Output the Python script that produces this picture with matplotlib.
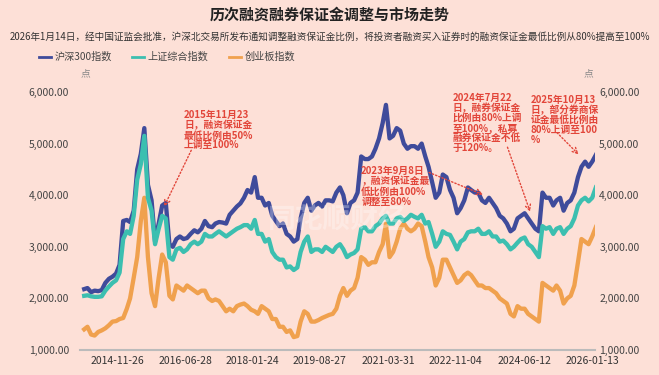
import numpy as np
import pandas as pd
import matplotlib
matplotlib.use("Agg")
import matplotlib.pyplot as plt
import matplotlib.dates as mdates
from matplotlib.lines import Line2D

plt.rcParams['font.family'] = ['Noto Sans CJK SC', 'DejaVu Sans']

# 月度数据
dates = pd.date_range("2014-01-15", periods=145, freq="MS") + pd.Timedelta(days=14)

hs300 = [
    2180, 2200, 2120, 2150, 2140, 2160, 2300, 2380, 2420, 2480, 2650, 3500,   # 2014
    3520, 3480, 3700, 4500, 4800, 5300, 4200, 3900, 3100, 3450, 3800, 3850,   # 2015
    3050, 3000, 3150, 3200, 3150, 3170, 3250, 3320, 3280, 3350, 3500, 3400,   # 2016
    3380, 3450, 3480, 3470, 3450, 3620, 3700, 3780, 3840, 3950, 4100, 4050,   # 2017
    4350, 3950, 3950, 3800, 3850, 3600, 3500, 3400, 3450, 3250, 3200, 3100,   # 2018
    3150, 3550, 3850, 3950, 3700, 3800, 3850, 3780, 3900, 3900, 3880, 4050,   # 2019
    4150, 4000, 3650, 3850, 3900, 4050, 4750, 4700, 4700, 4750, 4900, 5100,   # 2020
    5400, 5750, 5100, 5150, 5300, 5250, 5000, 4900, 4950, 4950, 4900, 5000,   # 2021
    4750, 4550, 4250, 3950, 4050, 4400, 4350, 4100, 3950, 3650, 3750, 3900,   # 2022
    4150, 4100, 4050, 4050, 3900, 3850, 3950, 3850, 3750, 3600, 3550, 3450,   # 2023
    3300, 3350, 3550, 3600, 3650, 3550, 3450, 3350, 3300, 4050, 3950, 3950,   # 2024
    3800, 3900, 3950, 3700, 3850, 3900, 4050, 4350, 4550, 4650, 4550, 4650,   # 2025
    4780,                                                                     # 2026
]
sse = [
    2050, 2060, 2040, 2030, 2030, 2040, 2150, 2230, 2300, 2350, 2500, 3150,
    3300, 3250, 3600, 4300, 4600, 5150, 3950, 3700, 3050, 3350, 3600, 3550,
    2800, 2750, 2950, 2980, 2900, 2950, 3050, 3100, 3050, 3100, 3250, 3200,
    3200, 3250, 3300, 3250, 3200, 3250, 3300, 3350, 3380, 3420, 3420, 3350,
    3520, 3250, 3250, 3100, 3150, 2900, 2800, 2750, 2750, 2600, 2620, 2550,
    2600, 2900, 3100, 3200, 2900, 2950, 2950, 2900, 3000, 2950, 2900, 3000,
    3050, 2950, 2800, 2850, 2880, 2950, 3350, 3380, 3300, 3300, 3400, 3450,
    3550, 3600, 3450, 3450, 3550, 3580, 3500, 3550, 3620, 3580, 3550, 3620,
    3450, 3480, 3250, 3000, 3100, 3300, 3250, 3230, 3100, 2950, 3100, 3150,
    3280, 3300, 3300, 3350, 3250, 3250, 3300, 3200, 3200, 3100, 3120, 3050,
    2950, 3000, 3080, 3150, 3180, 3050, 3000, 2900, 2800, 3400, 3350, 3380,
    3250, 3350, 3380, 3250, 3350, 3400, 3550, 3800, 3900, 3950, 3880, 3950,
    4150,
]
chinext = [
    1400, 1450, 1300, 1280, 1350, 1380, 1420, 1480, 1550, 1560, 1600, 1620,
    1800, 2000, 2400, 2800, 3500, 3950, 2800, 2100, 1850, 2400, 2850, 2700,
    2050, 1980, 2250, 2200, 2150, 2250, 2200, 2150, 2100, 2150, 2150, 2000,
    1950, 1980, 1950, 1850, 1750, 1800, 1750, 1850, 1880, 1900, 1850, 1780,
    1750, 1700, 1850, 1800, 1750, 1600, 1600, 1450, 1450, 1350, 1380, 1250,
    1270, 1550, 1750, 1700, 1550, 1550, 1580, 1620, 1650, 1680, 1700, 1800,
    2050, 2200, 2050, 2150, 2200, 2400, 2800, 2750, 2650, 2700, 2700, 2900,
    3050, 3450, 2800, 2900, 3100, 3350, 3450, 3350, 3300, 3350, 3450, 3400,
    3100, 2800, 2600, 2250, 2400, 2750, 2750, 2600, 2450, 2300, 2350, 2450,
    2500, 2450, 2350, 2250, 2250, 2200, 2200, 2150, 2100, 2000, 1950, 1900,
    1700, 1650, 1850, 1800, 1800, 1700, 1650, 1600, 1550, 2300, 2250, 2200,
    2150, 2250, 2150, 1900, 2000, 2050, 2250, 2700, 3150, 3100, 3050, 3200,
    3380,
]

series_names = ["沪深300指数", "上证综合指数", "创业板指数"]
colors = ["#3f4b9b", "#3cbfb0", "#f0a14e"]

tick_labels = ["2014-11-26", "2016-06-28", "2018-01-24", "2019-08-27",
               "2021-03-31", "2022-11-04", "2024-06-12", "2026-01-13"]
y_ticks = [1000, 2000, 3000, 4000, 5000, 6000]

notes = [
    ("2015年11月23\n日，融资保证金\n最低比例由50%\n上调至100%",
     "2016-06-20", 5650, "2016-08-20", 4870, "2016-01-01", 3780),
    ("2023年9月8日\n，融资保证金最\n低比例由100%\n调整至80%",
     "2020-08-15", 4560, "2022-03-20", 4440, "2023-06-25", 4010),
    ("2024年7月22\n日，融券保证金\n比例由80%上调\n至100%，私募\n融券保证金不低\n于120%。",
     "2022-10-08", 5990, "2024-01-20", 4930, "2024-08-01", 3680),
    ("2025年10月13\n日，部分券商保\n证金最低比例由\n80%上调至100\n%",
     "2024-08-03", 5950, "2025-03-20", 5210, "2025-09-20", 4790),
]

bg = "#fde0d7"
red = "#e2463a"

fig = plt.figure(figsize=(6.59, 3.75), dpi=100, facecolor=bg)
ax = fig.add_axes([0.1214, 0.0667, 0.7815, 0.688])
ax.set_facecolor(bg)

ax.plot(dates, hs300, color=colors[0], lw=3.1, zorder=3)
ax.plot(dates, chinext, color=colors[2], lw=3.1, zorder=3)
ax.plot(dates, sse, color=colors[1], lw=3.1, zorder=4)

ax.set_xlim(pd.Timestamp("2014-01-10"), pd.Timestamp("2026-02-08"))
ax.set_ylim(1000, 6000)
ax.set_yticks(y_ticks)
ax.set_yticklabels([f"{v:,.2f}" for v in y_ticks], fontsize=7.5, color="#444444")
ax.set_xticks(pd.to_datetime(tick_labels))
ax.set_xticklabels(tick_labels, fontsize=7.5, color="#333333")
ax.tick_params(axis="both", length=0)
ax.tick_params(axis="y", pad=8)
ax.tick_params(axis="x", pad=4)
for s in ["top", "right", "left"]:
    ax.spines[s].set_visible(False)
ax.spines["bottom"].set_color("#bbbbbb")
ax.spines["bottom"].set_linewidth(1.5)

ax2 = ax.twinx()
ax2.set_ylim(1000, 6000)
ax2.set_yticks(y_ticks)
ax2.set_yticklabels([f"{v:,.2f}" for v in y_ticks], fontsize=7.5, color="#444444")
ax2.tick_params(axis="y", length=0, pad=3)
for s in ax2.spines.values():
    s.set_visible(False)

# 标注
for txt, tx, ty, ax_x, ax_y, px, py in notes:
    ax.text(pd.Timestamp(tx), ty, txt, color=red, fontsize=7, fontweight="bold",
            ha="left", va="top", linespacing=1.0, zorder=6)
    ax.annotate("", xy=(pd.Timestamp(px), py), xytext=(pd.Timestamp(ax_x), ax_y),
                arrowprops=dict(arrowstyle="->", color=red, lw=1.0, linestyle=(0, (1, 1.5)),
                                shrinkA=0, shrinkB=0), zorder=6)

# 水印
ax.text(0.5, 0.5, "同花顺财经", transform=ax.transAxes, fontsize=20, color="white",
        alpha=0.3, ha="center", va="center", style="italic", fontweight="bold", zorder=5)

fig.text(0.5, 0.96, "历次融资融券保证金调整与市场走势", ha="center", va="center",
         fontsize=10.8, fontweight="bold", color="#222222")
fig.text(0.5, 0.901, "2026年1月14日，经中国证监会批准，沪深北交易所发布通知调整融资保证金比例，将投资者融资买入证券时的融资保证金最低比例从80%提高至100%",
         ha="center", va="center", fontsize=6.95, color="#333333")

handles = [Line2D([0], [0], color=c, lw=2.0) for c in colors]
fig.legend(handles, series_names, loc="center left", bbox_to_anchor=(0.045, 0.848),
           ncol=3, frameon=False, fontsize=7.3, handlelength=1.2, handletextpad=0.35,
           columnspacing=2.0, labelcolor="#444444")

fig.text(85 / 659, 1 - 73 / 375, "点", fontsize=7, color="#888888", ha="center", va="center")
fig.text(588 / 659, 1 - 73 / 375, "点", fontsize=7, color="#888888", ha="center", va="center")

fig.savefig("out.png", dpi=100, facecolor=bg)
